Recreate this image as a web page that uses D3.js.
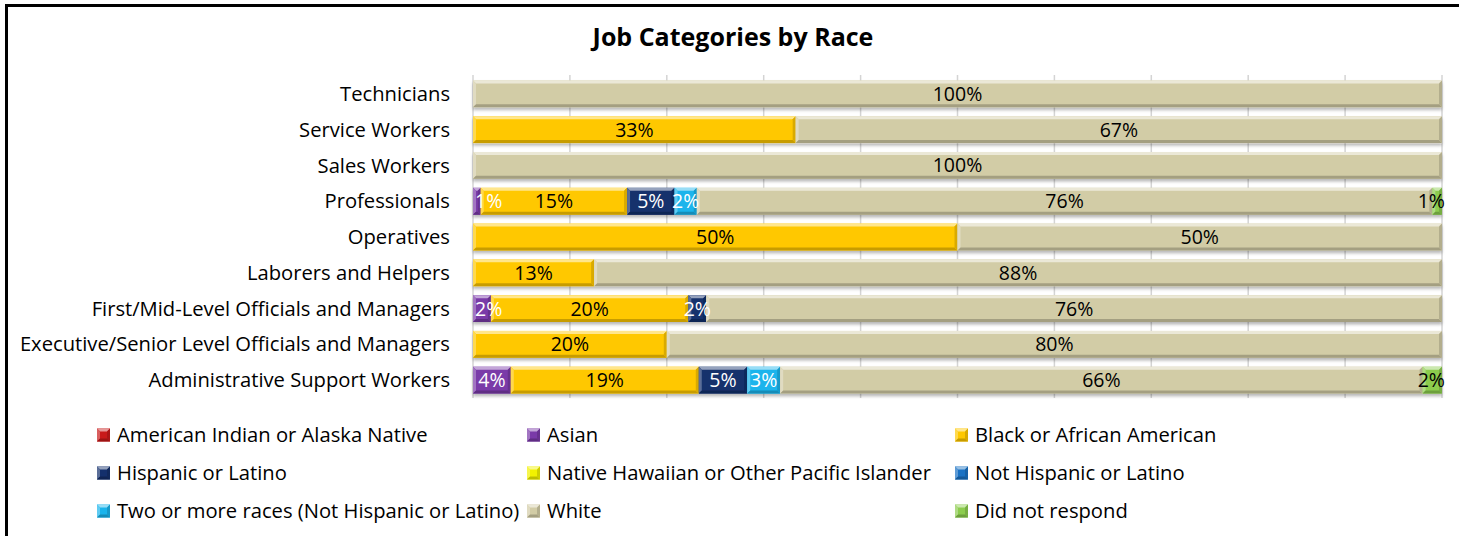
<!DOCTYPE html>
<html>
<head>
<meta charset="utf-8">
<script src="https://cdn.jsdelivr.net/npm/d3@7"></script>
<style>
  html, body { margin: 0; padding: 0; background: #fff; }
  svg { display: block; }
  text { font-family: "Open Sans", sans-serif; fill: #000; }
</style>
</head>
<body>
<svg id="chart" width="1459" height="536"></svg>
<script>
// Job categories, top row first
const categories = [
  "Technicians",
  "Service Workers",
  "Sales Workers",
  "Professionals",
  "Operatives",
  "Laborers and Helpers",
  "First/Mid-Level Officials and Managers",
  "Executive/Senior Level Officials and Managers",
  "Administrative Support Workers"
];

// Race / ethnicity series in stacking order
const seriesNames = [
  "American Indian or Alaska Native",
  "Asian",
  "Black or African American",
  "Hispanic or Latino",
  "Native Hawaiian or Other Pacific Islander",
  "Not Hispanic or Latino",
  "Two or more races (Not Hispanic or Latino)",
  "White",
  "Did not respond"
];

const seriesColors = [
  "#c81a1a", "#7a3aa8", "#ffc800", "#14306c", "#f2f200",
  "#1a72c4", "#1ab4ec", "#d2cca6", "#8ccc4e"
];

// Percent of each job category, one array per series (same order as categories)
const americanIndian  = [0, 0, 0, 0, 0, 0, 0, 0, 0];
const asian           = [0, 0, 0, 0.8, 0, 0, 1.85, 0, 3.9];
const black           = [0, 33.3, 0, 15.1, 50, 12.5, 20.37, 20, 19.4];
const hispanic        = [0, 0, 0, 4.9, 0, 0, 1.85, 0, 5.0];
const nativeHawaiian  = [0, 0, 0, 0, 0, 0, 0, 0, 0];
const notHispanic     = [0, 0, 0, 0, 0, 0, 0, 0, 0];
const twoOrMore       = [0, 0, 0, 2.3, 0, 0, 0, 0, 3.4];
const white           = [100, 66.7, 100, 75.9, 50, 87.5, 75.93, 80, 66.3];
const didNotRespond   = [0, 0, 0, 1.0, 0, 0, 0, 0, 2.0];

const seriesValues = [americanIndian, asian, black, hispanic, nativeHawaiian,
                      notHispanic, twoOrMore, white, didNotRespond];

// Label colour per series (white on dark fills)
const labelColors = ["#fff", "#fff", "#000", "#fff", "#000", "#fff", "#fff", "#000", "#000"];

const xTicks = [0, 10, 20, 30, 40, 50, 60, 70, 80, 90, 100];

const svg = d3.select("#chart");

const x = d3.scaleLinear().domain([0, 100]).range([473, 1442]);
const y = d3.scaleBand().domain(categories).range([76, 398])
  .paddingInner(0.25).paddingOuter(0.125);

const rows = categories.map((c, i) => {
  const obj = { category: c };
  seriesNames.forEach((s, j) => obj[s] = seriesValues[j][i]);
  return obj;
});
const stacked = d3.stack().keys(seriesNames)(rows);

// frame lines
svg.append("rect").attr("x", 5).attr("y", 4).attr("width", 1454).attr("height", 3).attr("fill", "#000");
svg.append("rect").attr("x", 5).attr("y", 4).attr("width", 3).attr("height", 532).attr("fill", "#000");

// title
svg.append("text")
  .attr("x", 733).attr("y", 46)
  .attr("text-anchor", "middle")
  .style("font-size", "25px").style("font-weight", "bold")
  .text("Job Categories by Race");

// shadow filter
const defs = svg.append("defs");
const f = defs.append("filter").attr("id", "shadow")
  .attr("x", "-5%").attr("y", "-20%").attr("width", "110%").attr("height", "160%");
f.append("feDropShadow").attr("dx", 0).attr("dy", 2.5).attr("stdDeviation", 1.5)
  .attr("flood-color", "#000").attr("flood-opacity", 0.28);

// gridlines
svg.append("g").selectAll("line").data(xTicks).join("line")
  .attr("x1", d => x(d)).attr("x2", d => x(d))
  .attr("y1", 75).attr("y2", 398)
  .attr("stroke", "#d4d4d4").attr("stroke-width", 1.5);

// category axis labels
svg.append("g").selectAll("text").data(categories).join("text")
  .attr("x", 450)
  .attr("y", d => y(d) + y.bandwidth() / 2)
  .attr("dy", "0.35em")
  .attr("text-anchor", "end")
  .style("font-size", "20.2px")
  .text(d => d);

// bevelled segment
function bevel(g, x0, x1, y0, h, color) {
  const w = x1 - x0;
  const b = Math.min(3, w / 2);
  const c = d3.color(color);
  const light = d3.interpolateRgb(color, "#ffffff")(0.55);
  const dark = c.darker(0.7).formatHex();
  g.append("rect").attr("x", x0).attr("y", y0).attr("width", w).attr("height", h).attr("fill", color);
  g.append("path").attr("d", `M${x0},${y0}L${x1},${y0}L${x1 - b},${y0 + b}L${x0 + b},${y0 + b}Z`).attr("fill", light);
  g.append("path").attr("d", `M${x0},${y0}L${x0 + b},${y0 + b}L${x0 + b},${y0 + h - b}L${x0},${y0 + h}Z`)
    .attr("fill", d3.interpolateRgb(color, "#ffffff")(0.3));
  g.append("path").attr("d", `M${x0},${y0 + h}L${x1},${y0 + h}L${x1 - b},${y0 + h - b}L${x0 + b},${y0 + h - b}Z`).attr("fill", dark);
  g.append("path").attr("d", `M${x1},${y0}L${x1},${y0 + h}L${x1 - b},${y0 + h - b}L${x1 - b},${y0 + b}Z`)
    .attr("fill", c.darker(0.45).formatHex());
}

const barLayer = svg.append("g").attr("filter", "url(#shadow)");
stacked.forEach((layer, si) => {
  layer.forEach(d => {
    if (d[1] - d[0] <= 0) return;
    bevel(barLayer, x(d[0]), x(d[1]), y(d.data.category), y.bandwidth(), seriesColors[si]);
  });
});

// value labels, kept inside the plot area
const fmt = v => d3.format(".0f")(v) + "%";
const labelLayer = svg.append("g");
stacked.forEach((layer, si) => {
  layer.forEach(d => {
    const v = d[1] - d[0];
    if (v <= 0) return;
    const t = labelLayer.append("text")
      .attr("y", y(d.data.category) + y.bandwidth() / 2)
      .attr("dy", "0.36em")
      .attr("text-anchor", "middle")
      .style("font-size", "19.5px")
      .style("fill", labelColors[si])
      .text(fmt(v));
    const half = t.node().getComputedTextLength() / 2;
    let cx = (x(d[0]) + x(d[1])) / 2;
    cx = Math.max(cx, x(0) + 2 + half);
    cx = Math.min(cx, x(100) + 3 - half);
    t.attr("x", cx);
  });
});

// legend
const legCols = [97, 527, 955];
const legRows = [435, 473, 511];
const legend = svg.append("g");
seriesNames.forEach((s, i) => {
  const lx = legCols[i % 3], ly = legRows[Math.floor(i / 3)];
  const g = legend.append("g");
  bevel(g, lx, lx + 13, ly - 6.5, 13, seriesColors[i]);
  legend.append("text")
    .attr("x", lx + 20).attr("y", ly)
    .attr("dy", "0.35em")
    .style("font-size", "20.2px")
    .text(s);
});
</script>
</body>
</html>
